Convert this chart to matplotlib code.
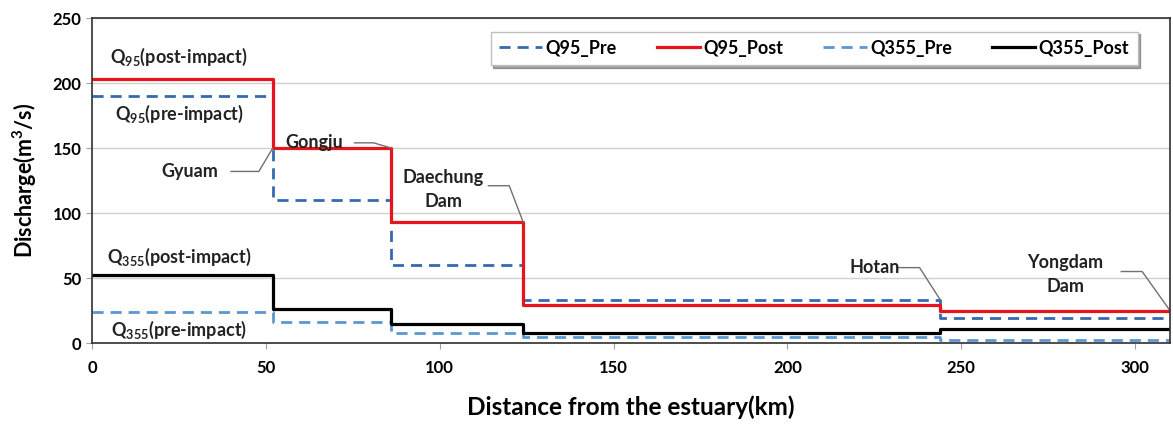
import numpy as np
import matplotlib.pyplot as plt

plt.rcParams['font.family'] = ['Lato', 'DejaVu Sans']
plt.rcParams['mathtext.fontset'] = 'custom'
plt.rcParams['mathtext.rm'] = 'Lato:bold'
plt.rcParams['mathtext.bf'] = 'Lato:bold'
plt.rcParams['mathtext.default'] = 'bf'

# step edges along the river (km from estuary)
distance = [0, 52, 86, 124, 244, 310]

q95_pre = [190, 110, 60, 33, 19]
q95_post = [203, 150, 93, 29, 25]
q355_pre = [24, 16, 8, 5, 2]
q355_post = [52, 26, 15, 8, 11]


def steps(vals):
    return list(vals) + [vals[-1]]


fig = plt.figure(figsize=(11.73, 4.30), dpi=100)
ax = fig.add_axes([0.0784, 0.2023, 0.9190, 0.7557])

ax.plot(distance, steps(q95_pre), drawstyle='steps-post', color='#3569b0',
        lw=2, ls=(0, (4, 2.5)), label='Q95_Pre')
ax.plot(distance, steps(q95_post), drawstyle='steps-post', color='#e8141c',
        lw=2.3, label='Q95_Post')
ax.plot(distance, steps(q355_pre), drawstyle='steps-post', color='#5b97d2',
        lw=2, ls=(0, (4, 2.5)), label='Q355_Pre')
ax.plot(distance, steps(q355_post), drawstyle='steps-post', color='black',
        lw=2.3, label='Q355_Post')

ax.set_xlim(0, 310)
ax.set_ylim(0, 250)
ax.set_xticks([0, 50, 100, 150, 200, 250, 300])
ax.set_yticks([0, 50, 100, 150, 200, 250])
ax.yaxis.grid(True, color='#d0d0d0', lw=1)
ax.set_axisbelow(True)
for lab in ax.get_xticklabels() + ax.get_yticklabels():
    lab.set_fontweight('bold')
    lab.set_fontsize(12)
ax.tick_params(axis='both', length=4, color='#a0a0a0')
ax.tick_params(axis='x', pad=8)
for s in ax.spines.values():
    s.set_color('#303030')
    s.set_linewidth(1.2)

ax.set_ylabel('Discharge(m$^3$/s)', fontsize=15.5, fontweight='bold', labelpad=10)
ax.set_xlabel('Distance from the estuary(km)', fontsize=17.5, fontweight='bold',
              labelpad=14)

# series labels
tk = dict(fontsize=13, fontweight='bold', color='#222222', ha='center', va='center')
ax.text(25, 220, r'Q$_{95}$(post-impact)', **tk)
ax.text(25, 176, r'Q$_{95}$(pre-impact)', **tk)
ax.text(25, 66, r'Q$_{355}$(post-impact)', **tk)
ax.text(25, 10, r'Q$_{355}$(pre-impact)', **tk)

# station call-outs
lk = dict(color='#707070', lw=1)
ax.text(28, 132, 'Gyuam', **tk)
ax.plot([40, 48, 52], [132, 132, 150], **lk)
ax.text(64, 154, 'Gongju', **tk)
ax.plot([75.5, 81, 86], [154, 154, 150], **lk)
ax.text(101, 118, 'Daechung\nDam', linespacing=1.5, **tk)
ax.plot([114, 120, 124], [121, 121, 93], **lk)
ax.text(225, 58, 'Hotan', **tk)
ax.plot([232, 238, 244], [58, 58, 33], **lk)
ax.text(280, 53, 'Yongdam\nDam', linespacing=1.5, **tk)
ax.plot([296, 302, 310], [55, 55, 25], **lk)

leg = ax.legend(loc='upper right', bbox_to_anchor=(0.975, 0.975), ncol=4,
                handlelength=2.4, handletextpad=0.2,
                columnspacing=2.2, fancybox=False, shadow=True,
                edgecolor='#c0c0c0', borderpad=0.45, borderaxespad=0.3,
                prop={'weight': 'bold', 'size': 13})

fig.savefig('out.png', dpi=100)
